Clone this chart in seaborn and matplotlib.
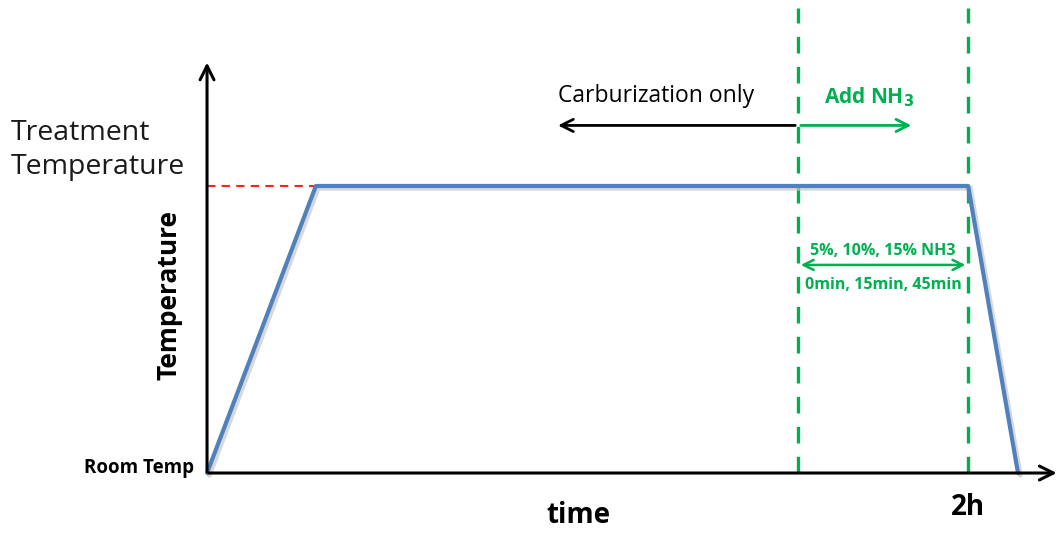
"""
    Heat treatment schedule sketch: carburization then NH3 addition
"""
import pandas as pd
import seaborn as sns
import matplotlib.pyplot as plt

# temperature profile (time in h, temperature as fraction of treatment temperature)
time_h = [0.0, 0.286, 2.0, 2.131]
temp_frac = [0.0, 1.0, 1.0, 0.0]

nh3_start = 1.553   # start of NH3 addition
end_time = 2.0      # 2h mark
carb_arrow_left = 0.915
nh3_arrow_right = 1.858

nh3_levels = ['5%', '10%', '15% NH3']
nh3_times = ['0min', '15min', '45min']

df = pd.DataFrame({'time': time_h, 'temp': temp_frac})

sns.set_style('white')
plt.rcParams['font.family'] = ['Open Sans', 'DejaVu Sans']
plt.rcParams['text.color'] = 'black'

fig = plt.figure(figsize=(10.61, 5.33), dpi=100)
ax = fig.add_axes([0, 0, 1, 1])
ax.set_xlim(-0.544, 2.244)
ax.set_ylim(-0.209, 1.648)
ax.axis('off')

green = '#00B050'
blue = '#4F81BD'

# axes with arrows
ax.annotate('', xy=(2.24, 0), xytext=(-0.003, 0),
            arrowprops=dict(arrowstyle='->', color='black', lw=2.2, mutation_scale=25))
ax.annotate('', xy=(0, 1.44), xytext=(0, -0.005),
            arrowprops=dict(arrowstyle='->', color='black', lw=2.2, mutation_scale=25))

# dashed markers
ax.plot([0, time_h[1]], [1.0, 1.0], color='#FF2020', ls=(0, (4, 3)), lw=1.5)
for t in [nh3_start, end_time]:
    ax.plot([t, t], [0, 1.62], color=green, ls=(0, (5, 4)), lw=2.4)

# shadow + profile
ax.plot([t + 0.006 for t in time_h], [v - 0.008 for v in temp_frac],
        color='#C8C8C8', lw=3.5, alpha=0.7, solid_joinstyle='miter')
sns.lineplot(data=df, x='time', y='temp', ax=ax, color=blue, lw=3.0,
             sort=False, estimator=None)

# arrows at top
ax.annotate('', xy=(carb_arrow_left, 1.211), xytext=(nh3_start, 1.211),
            arrowprops=dict(arrowstyle='->', color='black', lw=2, mutation_scale=22))
ax.annotate('', xy=(nh3_arrow_right, 1.211), xytext=(nh3_start, 1.211),
            arrowprops=dict(arrowstyle='->', color=green, lw=2, mutation_scale=22))
ax.text(1.18, 1.315, 'Carburization only', fontsize=16.5, ha='center', va='center')
ax.text(1.74, 1.31, r'Add NH$_\mathbf{3}$', fontsize=15, ha='center', va='center',
        color=green, fontweight='bold')

# double arrow between dashed lines
ax.annotate('', xy=(nh3_start, 0.725), xytext=(end_time, 0.725),
            arrowprops=dict(arrowstyle='<->', color=green, lw=1.8, mutation_scale=18))
ax.text((nh3_start + end_time) / 2, 0.775, ', '.join(nh3_levels), fontsize=11.5,
        ha='center', va='center', color=green, fontweight='bold')
ax.text((nh3_start + end_time) / 2, 0.655, ', '.join(nh3_times), fontsize=11.5,
        ha='center', va='center', color=green, fontweight='bold')

# labels
ax.text(-0.515, 1.125, 'Treatment\nTemperature', fontsize=20.5, ha='left', va='center',
        linespacing=1.3, color='#1a1a1a')
ax.text(-0.1, 0.62, 'Temperature', fontsize=19, rotation=90, ha='center', va='center',
        fontweight='bold')
ax.text(-0.035, 0.017, 'Room Temp', fontsize=13.5, ha='right', va='center', fontweight='bold')
ax.text(0.975, -0.148, 'time', fontsize=20, ha='center', va='center', fontweight='bold')
ax.text(end_time, -0.12, '2h', fontsize=20, ha='center', va='center', fontweight='bold')

fig.savefig('out.png', dpi=100)
